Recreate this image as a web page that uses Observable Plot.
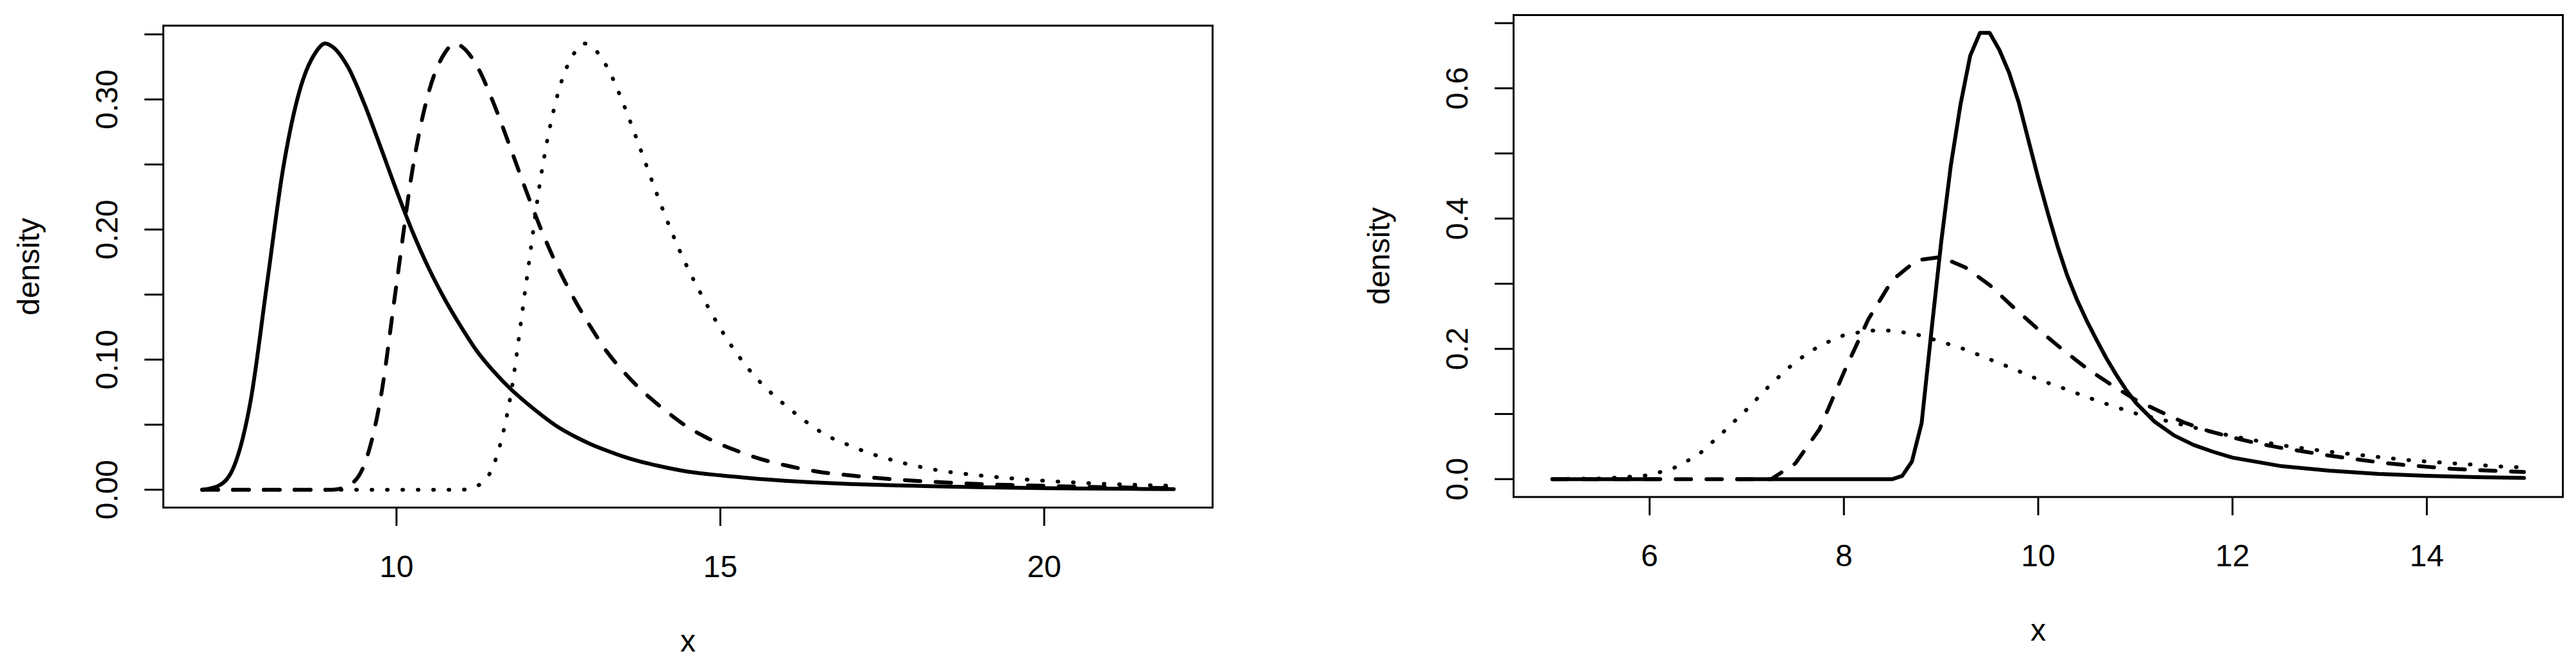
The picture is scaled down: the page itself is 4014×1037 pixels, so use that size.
<!DOCTYPE html>
<html>
<head>
<meta charset="utf-8">
<script src="https://cdn.jsdelivr.net/npm/d3@7"></script>
<script src="https://cdn.jsdelivr.net/npm/@observablehq/plot@0.6"></script>
<style>
  html, body { margin: 0; padding: 0; background: #ffffff; }
  #wrap { position: relative; width: 4014px; height: 1037px; background: #ffffff; overflow: hidden; }
  #wrap > div { position: absolute; top: 0; }
  svg { overflow: visible; }
</style>
</head>
<body>
<div id="wrap"><div id="left" style="left:0px"></div><div id="right" style="left:2007px"></div></div>
<script>
// ---------- LEFT PANEL DATA ----------
const leftSolidX = [7, 7.25, 7.5, 7.75, 8, 8.25, 8.5, 8.75, 8.9, 9, 9.25, 9.5, 9.75, 10, 10.25, 10.5, 10.75, 11, 11.25, 11.5, 11.75, 12, 12.25, 12.5, 12.75, 13, 13.25, 13.5, 13.75, 14, 14.5, 15, 15.5, 16, 16.5, 17, 17.5, 18, 18.5, 19, 19.5, 20, 20.5, 21, 21.5, 22];
const leftSolidY = [0, 0.003, 0.019, 0.069, 0.158, 0.247, 0.306, 0.336, 0.343, 0.341, 0.325, 0.297, 0.264, 0.230, 0.198, 0.170, 0.146, 0.125, 0.106, 0.091, 0.078, 0.067, 0.057, 0.048, 0.041, 0.035, 0.030, 0.0255, 0.0218, 0.0188, 0.0139, 0.011, 0.0087, 0.0069, 0.0055, 0.0044, 0.0036, 0.003, 0.0024, 0.0019, 0.0015, 0.0012, 0.001, 0.0008, 0.0006, 0.0005];

const leftDashX = [7, 9, 9.25, 9.5, 9.75, 10, 10.25, 10.5, 10.75, 10.9, 11, 11.25, 11.5, 11.75, 12, 12.25, 12.5, 12.75, 13, 13.25, 13.5, 13.75, 14, 14.25, 14.5, 14.75, 15, 15.25, 15.5, 15.75, 16, 16.5, 17, 17.5, 18, 18.5, 19, 19.5, 20, 20.5, 21, 21.5, 22];
const leftDashY = [0, 0, 0.003, 0.019, 0.069, 0.158, 0.247, 0.306, 0.336, 0.343, 0.341, 0.325, 0.297, 0.264, 0.230, 0.198, 0.170, 0.146, 0.125, 0.106, 0.091, 0.078, 0.067, 0.057, 0.048, 0.041, 0.035, 0.030, 0.0255, 0.0218, 0.0188, 0.0139, 0.011, 0.0087, 0.0069, 0.0055, 0.0044, 0.0036, 0.003, 0.0024, 0.0019, 0.0015, 0.0012];

const leftDotX = [7, 11, 11.25, 11.5, 11.75, 12, 12.25, 12.5, 12.75, 12.9, 13, 13.25, 13.5, 13.75, 14, 14.25, 14.5, 14.75, 15, 15.25, 15.5, 15.75, 16, 16.25, 16.5, 16.75, 17, 17.25, 17.5, 17.75, 18, 18.5, 19, 19.5, 20, 20.5, 21, 21.5, 22];
const leftDotY = [0, 0, 0.003, 0.019, 0.069, 0.158, 0.247, 0.306, 0.336, 0.343, 0.341, 0.325, 0.297, 0.264, 0.230, 0.198, 0.170, 0.146, 0.124, 0.105, 0.089, 0.076, 0.065, 0.055, 0.046, 0.039, 0.034, 0.029, 0.025, 0.0215, 0.0185, 0.0139, 0.011, 0.0087, 0.0069, 0.0055, 0.0044, 0.0036, 0.003];

const leftXTicks = [10, 15, 20];
const leftXTickLabels = ["10", "15", "20"];
const leftYTicks = [0, 0.05, 0.10, 0.15, 0.20, 0.25, 0.30, 0.35];
const leftYLabelValues = [0, 0.10, 0.20, 0.30];
const leftYLabelTexts = ["0.00", "0.10", "0.20", "0.30"];

// ---------- RIGHT PANEL DATA ----------
const rightSolidX = [5, 5.5, 6, 6.1, 6.5, 6.9, 7.5, 8, 8.5, 8.6, 8.7, 8.8, 8.9, 9.0, 9.1, 9.2, 9.3, 9.4, 9.5, 9.6, 9.7, 9.8, 9.9, 10.0, 10.1, 10.2, 10.3, 10.4, 10.5, 10.6, 10.7, 10.8, 10.9, 11.0, 11.2, 11.4, 11.6, 11.8, 12, 12.5, 13, 13.5, 14, 14.5, 15];
const rightSolidY = [0, 0, 0, 0, null, 0, 0, 0, 0, 0.005, 0.027, 0.086, 0.226, 0.362, 0.481, 0.575, 0.650, 0.685, 0.685, 0.659, 0.624, 0.578, 0.520, 0.462, 0.408, 0.357, 0.312, 0.275, 0.243, 0.214, 0.186, 0.161, 0.138, 0.118, 0.088, 0.067, 0.0525, 0.042, 0.033, 0.020, 0.013, 0.008, 0.0052, 0.0032, 0.0018];

const rightDashX = [5, 7.25, 7.5, 7.75, 8, 8.25, 8.5, 8.75, 9, 9.25, 9.5, 9.75, 10, 10.25, 10.5, 10.75, 11, 11.25, 11.5, 11.75, 12, 12.25, 12.5, 12.75, 13, 13.25, 13.5, 13.75, 14, 14.25, 14.5, 14.75, 15];
const rightDashY = [0, 0, 0.024, 0.077, 0.164, 0.245, 0.306, 0.336, 0.341, 0.325, 0.298, 0.263, 0.230, 0.199, 0.170, 0.145, 0.122, 0.104, 0.087, 0.074, 0.064, 0.055, 0.048, 0.042, 0.036, 0.031, 0.026, 0.022, 0.019, 0.016, 0.014, 0.0125, 0.011];

const rightDotX = [5, 5.5, 5.75, 6, 6.25, 6.5, 6.75, 7, 7.25, 7.5, 7.75, 8, 8.25, 8.5, 8.75, 9, 9.25, 9.5, 9.75, 10, 10.25, 10.5, 10.75, 11, 11.25, 11.5, 11.75, 12, 12.25, 12.5, 12.75, 13, 13.25, 13.5, 13.75, 14, 14.25, 14.5, 14.75, 15];
const rightDotY = [0, 0.001, 0.003, 0.006, 0.017, 0.037, 0.071, 0.107, 0.146, 0.180, 0.205, 0.221, 0.228, 0.228, 0.222, 0.211, 0.199, 0.184, 0.169, 0.153, 0.140, 0.126, 0.113, 0.101, 0.092, 0.083, 0.074, 0.066, 0.059, 0.052, 0.047, 0.042, 0.038, 0.034, 0.030, 0.027, 0.0245, 0.022, 0.0195, 0.018];

const rightXTicks = [6, 8, 10, 12, 14];
const rightXTickLabels = ["6", "8", "10", "12", "14"];
const rightYTicks = [0, 0.1, 0.2, 0.3, 0.4, 0.5, 0.6, 0.7];
const rightYLabelValues = [0, 0.2, 0.4, 0.6];
const rightYLabelTexts = ["0.0", "0.2", "0.4", "0.6"];

const xTitle = "x";
const yTitle = "density";

// ---------- helpers ----------
const FONT = "'Liberation Sans', Arial, Helvetica, sans-serif";
const FS = 48;
const zip = (xs, ys) => xs.map((x, i) => ({x, y: ys[i]}));

function panel(opts) {
  const {solid, dash, dot, xDomain, yDomain, xTicks, xTickLabels, yTicks, yLabelValues, yLabelTexts, margins, curve} = opts;
  const lineBase = {x: "x", y: "y", stroke: "black", strokeWidth: 6, strokeLinecap: "round", strokeLinejoin: "round", curve};
  return Plot.plot({
    width: 2007,
    height: 1037,
    marginLeft: margins[0],
    marginRight: margins[1],
    marginTop: margins[2],
    marginBottom: margins[3],
    x: {domain: xDomain},
    y: {domain: yDomain},
    style: {fontFamily: FONT, fontSize: FS + "px", background: "white", color: "black", overflow: "visible"},
    marks: [
      Plot.line(solid, {...lineBase}),
      Plot.line(dash, {...lineBase, strokeDasharray: "24,24"}),
      Plot.line(dot, {...lineBase, strokeDasharray: "1,23"}),
      Plot.frame({stroke: "black", strokeWidth: 3}),
      Plot.axisY(yTicks, {tickSize: 29, strokeWidth: 3, stroke: "black", tickFormat: () => "", label: null}),
      Plot.axisX(xTicks, {tickSize: 29, strokeWidth: 3, stroke: "black", tickFormat: () => "", label: null}),
      Plot.text(yLabelValues, {y: d => d, frameAnchor: "left", text: (d, i) => yLabelTexts[i], rotate: -90, dx: -86.7, textAnchor: "middle", lineAnchor: "middle", fontSize: FS, fill: "black"}),
      Plot.text(xTicks, {x: d => d, frameAnchor: "bottom", text: (d, i) => xTickLabels[i], dy: 93, textAnchor: "middle", lineAnchor: "middle", fontSize: FS, fill: "black"}),
      Plot.text([xTitle], {frameAnchor: "bottom", text: d => d, dy: 209, textAnchor: "middle", lineAnchor: "middle", fontSize: FS, fill: "black"}),
      Plot.text([yTitle], {frameAnchor: "left", text: d => d, dx: -209, rotate: -90, textAnchor: "middle", lineAnchor: "middle", fontSize: FS, fill: "black"})
    ]
  });
}

const leftPlot = panel({
  solid: zip(leftSolidX, leftSolidY),
  dash: zip(leftDashX, leftDashY),
  dot: zip(leftDotX, leftDotY),
  xDomain: [6.4, 22.6],
  yDomain: [-0.01372, 0.35672],
  xTicks: leftXTicks, xTickLabels: leftXTickLabels,
  yTicks: leftYTicks, yLabelValues: leftYLabelValues, yLabelTexts: leftYLabelTexts,
  margins: [254, 118, 39.5, 246],
  curve: "monotone-x"
});
const rightPlot = panel({
  solid: zip(rightSolidX, rightSolidY),
  dash: zip(rightDashX, rightDashY),
  dot: zip(rightDotX, rightDotY),
  xDomain: [4.6, 15.4],
  yDomain: [-0.0274, 0.7124],
  xTicks: rightXTicks, xTickLabels: rightXTickLabels,
  yTicks: rightYTicks, yLabelValues: rightYLabelValues, yLabelTexts: rightYLabelTexts,
  margins: [351, 21, 23, 262.5],
  curve: "linear"
});
document.getElementById("left").appendChild(leftPlot);
document.getElementById("right").appendChild(rightPlot);
</script>
</body>
</html>
